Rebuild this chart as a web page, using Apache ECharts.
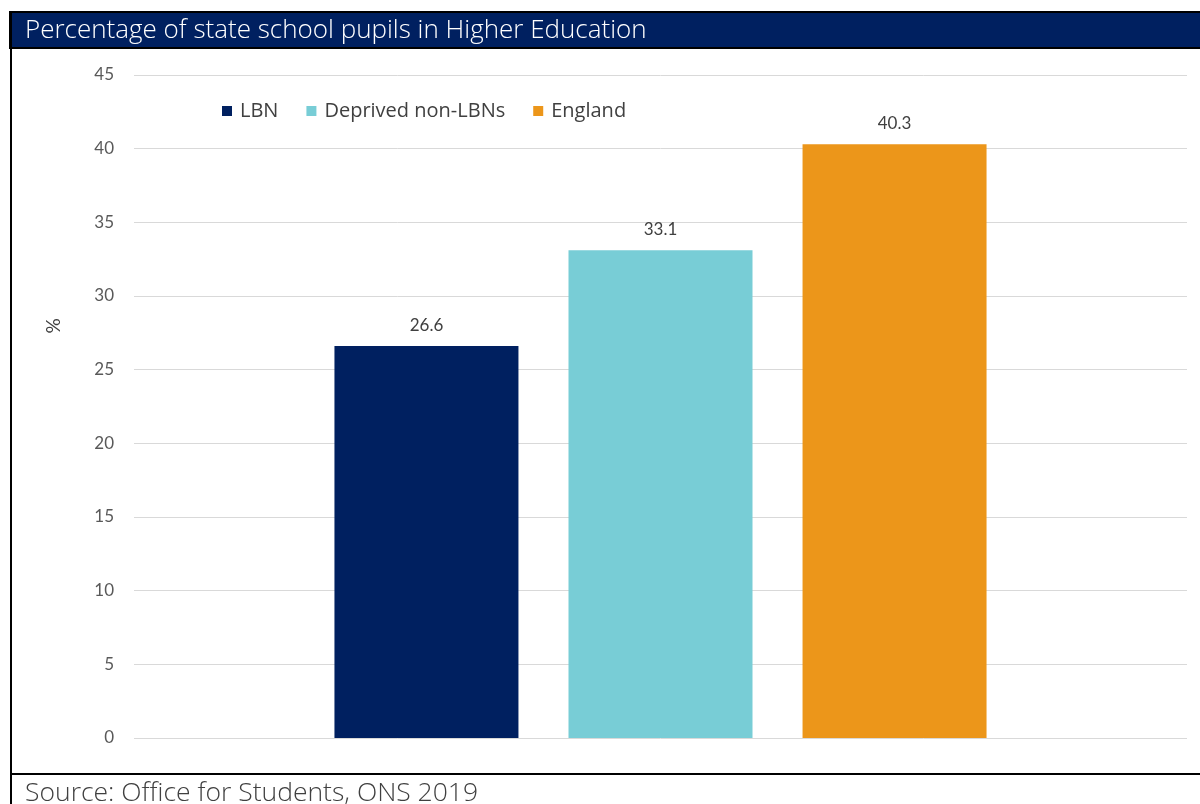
<!DOCTYPE html>
<html><head><meta charset="utf-8">
<script src="https://cdn.jsdelivr.net/npm/echarts@6/dist/echarts.min.js"></script>
<style>html,body{margin:0;padding:0;background:#fff}#c{width:1200px;height:804px}</style>
</head><body><div id="c"></div>
<script>
const titleText = 'Percentage of state school pupils in Higher Education';
const sourceText = 'Source: Office for Students, ONS 2019';
const categories = [''];
const seriesNames = ['LBN', 'Deprived non-LBNs', 'England'];
const seriesValues = [[26.6], [33.1], [40.3]];
const seriesColors = ['#002060', '#78CDD6', '#EC961A'];
const yMin = 0, yMax = 45, yInterval = 5;
const yAxisName = '%';

const FONT = 'Lato, "Open Sans", sans-serif';
const FONT2 = '"Open Sans", Lato, sans-serif';
const chart = echarts.init(document.getElementById('c'), null, {renderer: 'canvas'});
chart.setOption({
  animation: false,
  textStyle: {fontFamily: FONT},
  title: {text: titleText, left: 20, top: 13, textStyle: {color: '#fff', fontSize: 26, fontWeight: 300, fontFamily: FONT2}},
  graphic: [
    {type: 'rect', z: -1, shape: {x: 10, y: 12, width: 1200, height: 36}, style: {fill: '#002060', stroke: '#000', lineWidth: 2}},
    {type: 'line', shape: {x1: 11, y1: 12, x2: 11, y2: 804}, style: {stroke: '#000', lineWidth: 2}},
    {type: 'line', shape: {x1: 10, y1: 774, x2: 1200, y2: 774}, style: {stroke: '#000', lineWidth: 2}},
    {type: 'text', left: 25, top: 780, style: {text: sourceText, fill: '#404040', font: '300 26.5px ' + FONT2}},
    {type: 'text', x: 54, y: 326, rotation: Math.PI / 2, style: {text: yAxisName, fill: '#404040', font: '19px ' + FONT, align: 'center', verticalAlign: 'middle'}}
  ],
  legend: {
    data: seriesNames, left: 217, top: 96, icon: 'rect', itemWidth: 10, itemHeight: 10, itemGap: 28,
    textStyle: {fontSize: 20, color: '#404040', fontFamily: FONT2, padding: [0, 0, 0, 3]}
  },
  grid: {left: 134, right: 13, top: 75, bottom: 66, containLabel: false},
  xAxis: {type: 'category', data: categories, axisLine: {show: false}, axisTick: {show: false}, axisLabel: {show: false}},
  yAxis: {
    type: 'value', min: yMin, max: yMax, interval: yInterval,
    axisLabel: {fontSize: 17, color: '#595959', margin: 20},
    splitLine: {lineStyle: {color: '#d9d9d9', width: 1}}
  },
  series: seriesNames.map((n, i) => ({
    name: n, type: 'bar', data: seriesValues[i], barWidth: 184, barGap: '27.2%',
    itemStyle: {color: seriesColors[i]},
    label: {show: true, position: 'top', distance: 12, fontSize: 17, color: '#404040'}
  }))
});
</script></body></html>
